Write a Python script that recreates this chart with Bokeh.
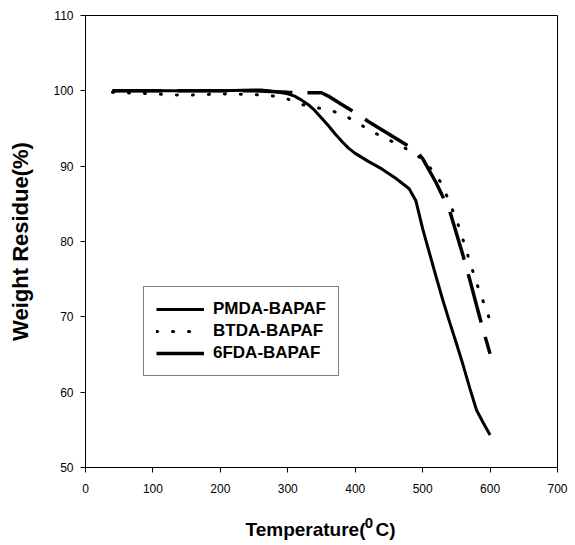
from bokeh.plotting import figure
from bokeh.models import Range1d, Legend, LegendItem, LinearAxis, FixedTicker
from bokeh.embed import file_html
from bokeh.resources import INLINE

# TGA curves: temperature (deg C) vs. weight residue (%)
pmda_t = [40, 100, 150, 200, 250, 260, 280, 300, 310, 320, 330, 340, 350, 360, 370,
          380, 390, 400, 420, 440, 460, 480, 490, 500, 510, 520, 530, 540, 550, 560,
          570, 580, 590, 600]
pmda_w = [100, 100, 100, 100, 100.1, 100.1, 99.9, 99.6, 99.3, 98.8, 98.2, 97.4, 96.4,
          95.4, 94.3, 93.3, 92.4, 91.7, 90.6, 89.6, 88.4, 87.0, 85.4, 81.7, 78.5, 75.3,
          72.2, 69.3, 66.5, 63.6, 60.5, 57.6, 55.9, 54.3]

btda_t = [40, 100, 150, 200, 250, 280, 300, 320, 340, 360, 380, 400, 420, 440, 460,
          480, 500, 510, 520, 530, 540, 550, 560, 570, 580, 590, 600]
btda_w = [99.8, 99.6, 99.4, 99.6, 99.5, 99.3, 98.9, 98.2, 97.8, 97.5, 96.9, 95.95,
          94.85, 93.9, 93.05, 92.1, 90.9, 89.9, 88.8, 87.4, 85.1, 83.0, 80.2, 77.3,
          74.5, 72.0, 69.5]

f6da_t = [40, 100, 200, 250, 300, 330, 350, 360, 380, 400, 420, 440, 460, 480, 490,
          500, 520, 540, 560, 570, 580, 590, 600]
f6da_w = [100, 100, 100, 100, 99.8, 99.75, 99.75, 99.3, 98.2, 97.1, 95.9, 94.8, 93.7,
          92.6, 92.0, 91.0, 87.8, 84.1, 78.1, 74.9, 71.5, 68.2, 65.1]

series_names = ["PMDA-BAPAF", "BTDA-BAPAF", "6FDA-BAPAF"]
x_ticks = [0, 100, 200, 300, 400, 500, 600, 700]
y_ticks = [50, 60, 70, 80, 90, 100, 110]

FONT = "Liberation Sans"
W, H = 575, 545
LEFT, RIGHT, TOP, BOTTOM = 85, 18, 15, 78
X0, X1 = 0, 700

p = figure(width=W, height=H, output_backend="svg", toolbar_location=None,
           x_range=Range1d(X0, X1), y_range=Range1d(50, 110),
           min_border_left=LEFT, min_border_right=RIGHT, min_border_top=TOP,
           min_border_bottom=BOTTOM)

p.background_fill_color = "white"
p.border_fill_color = "white"
p.outline_line_color = "black"
p.outline_line_width = 1
p.grid.visible = False

for ax, ticks in ((p.xaxis[0], x_ticks), (p.yaxis[0], y_ticks)):
    ax.ticker = FixedTicker(ticks=ticks)
    ax.axis_line_color = "black"
    ax.major_tick_line_color = "black"
    ax.major_tick_out = 5
    ax.major_tick_in = 0
    ax.minor_tick_line_color = None
    ax.major_label_text_font = FONT
    ax.major_label_text_font_size = "12px"
    ax.major_label_text_color = "black"

p.xaxis.major_label_standoff = 11
p.yaxis.major_label_standoff = 7

p.yaxis.axis_label = "Weight Residue(%)"
p.yaxis.axis_label_text_font = FONT
p.yaxis.axis_label_text_font_style = "bold"
p.yaxis.axis_label_text_font_size = "22px"
p.yaxis.axis_label_text_color = "black"
p.yaxis.axis_label_standoff = 17

r_pmda = p.line(pmda_t, pmda_w, line_color="black", line_width=3)
r_btda = p.line(btda_t, btda_w, line_color="black", line_width=3,
                line_dash="1 15", line_cap="round")
r_6fda = p.line(f6da_t, f6da_w, line_color="black", line_width=3.5,
                line_dash="50 15")

legend = Legend(items=[LegendItem(label=series_names[0], renderers=[r_pmda]),
                       LegendItem(label=series_names[1], renderers=[r_btda]),
                       LegendItem(label=series_names[2], renderers=[r_6fda])],
                location=(58, 91))
legend.label_text_font = FONT
legend.label_text_font_style = "bold"
legend.label_text_font_size = "17px"
legend.label_text_color = "black"
legend.border_line_color = "black"
legend.border_line_width = 1
legend.background_fill_color = "white"
legend.background_fill_alpha = 1
legend.glyph_width = 48
legend.glyph_height = 20
legend.label_standoff = 9
legend.padding = 12
legend.spacing = 2
legend.margin = 0
p.add_layout(legend)


def x_at(px):
    """x value under a given pixel column of the canvas."""
    return round(X0 + (px - LEFT) * (X1 - X0) / (W - LEFT - RIGHT), 1)


def text_axis(pieces, size, standoff):
    """A bare axis below the plot whose tick labels spell out a title."""
    ticks = [x_at(px) for px, _ in pieces]
    ax = LinearAxis(ticker=FixedTicker(ticks=ticks),
                    major_label_overrides={t: s for t, (_, s) in zip(ticks, pieces)},
                    axis_line_color=None, major_tick_line_color=None,
                    minor_tick_line_color=None, major_tick_out=0, major_tick_in=0,
                    major_label_standoff=standoff,
                    major_label_text_font=FONT, major_label_text_font_style="bold",
                    major_label_text_font_size=size, major_label_text_color="black")
    p.add_layout(ax, "below")
    return ax


# x-axis title "Temperature(0C)" with the 0 raised
text_axis([(368.5, "0")], "15px", 22)
text_axis([(305, "Temperature("), (385, "C)")], "19px", -12)

open("out.html", "w").write(file_html(p, INLINE))
